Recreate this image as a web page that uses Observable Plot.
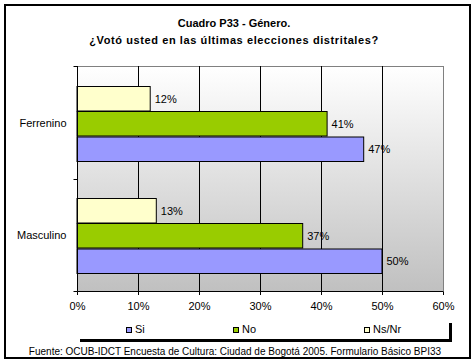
<!DOCTYPE html>
<html>
<head>
<meta charset="utf-8">
<script src="https://cdn.jsdelivr.net/npm/d3@7"></script>
<script src="https://cdn.jsdelivr.net/npm/@observablehq/plot@0.6"></script>
<style>
  html, body { margin: 0; padding: 0; background: #fff; }
  #chart { position: relative; width: 476px; height: 364px; overflow: hidden; font-family: "Liberation Sans", Arial, sans-serif; color: #000; }
  #outer { position: absolute; left: 4px; top: 4px; width: 467px; height: 355px; border: 2px solid #000; box-sizing: border-box; }
  #plot { position: absolute; left: 0; top: 0; }
  #title { position: absolute; left: 0; top: 15px; width: 468px; text-align: center; font-weight: bold; font-size: 11px; line-height: 16.5px; }
  #title span { letter-spacing: 0.6px; }
  #caption { position: absolute; left: 0; top: 346px; width: 470px; text-align: center; font-size: 10px; line-height: 12px; white-space: nowrap; }
  .lg { position: absolute; top: 323px; font-size: 11px; line-height: 12px; white-space: nowrap; }
  .lg i { display: inline-block; width: 4px; height: 4px; border: 1px solid #000; margin-right: 3px; vertical-align: 0px; }
  #lgline-b { position: absolute; left: 80px; top: 339px; width: 372px; height: 3px; background: #000; }
  #lgline-r { position: absolute; left: 449px; top: 323px; width: 3px; height: 19px; background: #000; }
</style>
</head>
<body>
<svg width="0" height="0" style="position:absolute">
  <defs>
    <linearGradient id="bg" x1="0" y1="0" x2="0" y2="1">
      <stop offset="0" stop-color="#ffffff"/>
      <stop offset="1" stop-color="#c0c0c0"/>
    </linearGradient>
  </defs>
</svg>
<div id="chart">
  <div id="outer"></div>
  <div id="plot"></div>
  <div id="title">Cuadro P33 - Género.<br><span>¿Votó usted en las últimas elecciones distritales?</span></div>
  <div id="legend"></div>
  <div id="lgline-b"></div>
  <div id="lgline-r"></div>
  <div id="caption">Fuente: OCUB-IDCT Encuesta de Cultura: Ciudad de Bogotá 2005. Formulario Básico BPI33</div>
</div>
<script>
// ---- data ----
const genders = ["Ferrenino", "Masculino"];
const seriesNames = ["Si", "No", "Ns/Nr"];
const siValues = [47, 50];
const noValues = [41, 37];
const nsnrValues = [12, 13];
const xTicks = [0, 10, 20, 30, 40, 50, 60];
const seriesColors = ["#9999ff", "#99cc00", "#ffffcc"];

// ---- table ----
const valuesBySeries = { "Si": siValues, "No": noValues, "Ns/Nr": nsnrValues };
const rows = [];
seriesNames.forEach((s) => genders.forEach((g, i) => rows.push({ gender: g, series: s, value: valuesBySeries[s][i] })));

// per-series placement within each gender band (style only)
const place = {
  "Ns/Nr": { insetTop: 19.5, insetBottom: 68, dy: -24.3 },
  "No":    { insetTop: 44.5, insetBottom: 43, dy: 0.8 },
  "Si":    { insetTop: 70,   insetBottom: 17.5, dy: 26.3 }
};
const colorOf = Object.fromEntries(seriesNames.map((s, i) => [s, seriesColors[i]]));

const barMarks = [];
const labelMarks = [];
for (const s of seriesNames) {
  const data = rows.filter(r => r.series === s);
  barMarks.push(Plot.barX(data, {
    x: "value", y: "gender", fill: colorOf[s], stroke: "#000", strokeWidth: 1,
    insetTop: place[s].insetTop, insetBottom: place[s].insetBottom
  }));
  labelMarks.push(Plot.text(data, {
    x: "value", y: "gender", text: d => d.value + "%", textAnchor: "start",
    dx: 4, dy: place[s].dy, fill: "#000", fontSize: 11
  }));
}

// axis lines & category boundary ticks
const axisLines = (index, scales, values, dims) => {
  const { x, y } = scales;
  const top = dims.marginTop, bottom = dims.height - dims.marginBottom;
  const x0 = Math.round(x(xTicks[0])) + 0.5;
  const x1 = Math.round(x(xTicks[xTicks.length - 1])) + 0.5;
  const g = d3.create("svg:g").attr("stroke", "#000").attr("stroke-width", 1).attr("fill", "none");
  g.append("line").attr("x1", x0).attr("x2", x0).attr("y1", top).attr("y2", bottom + 0.5);
  g.append("line").attr("x1", x0).attr("x2", x1).attr("y1", bottom + 0.5).attr("y2", bottom + 0.5);
  const bounds = [top, y(genders[1]), bottom].map(v => Math.round(v) + 0.5);
  for (const b of bounds) g.append("line").attr("x1", x0 - 4).attr("x2", x0).attr("y1", b).attr("y2", b);
  return g.node();
};

const chart = Plot.plot({
  width: 476,
  height: 364,
  marginLeft: 77,
  marginRight: 33,
  marginTop: 66,
  marginBottom: 73,
  style: { fontFamily: '"Liberation Sans", Arial, sans-serif', fontSize: "11px", color: "#000", background: "transparent", overflow: "visible" },
  x: { domain: [0, 60], ticks: xTicks, tickFormat: d => d + "%", tickSize: 4, tickPadding: 7, label: null },
  y: { domain: genders, paddingInner: 0, paddingOuter: 0, tickSize: 0, tickPadding: 11, label: null },
  marks: [
    Plot.frame({ fill: "url(#bg)", stroke: "#808080" }),
    Plot.ruleX(xTicks.slice(1, -1), { stroke: "#000" }),
    ...barMarks,
    ...labelMarks,
    axisLines
  ]
});
document.getElementById("plot").appendChild(chart);

// legend
const legendX = [126, 233, 364];
const legend = document.getElementById("legend");
seriesNames.forEach((s, i) => {
  const d = document.createElement("div");
  d.className = "lg";
  d.style.left = legendX[i] + "px";
  d.innerHTML = `<i style="background:${seriesColors[i]}"></i>${s}`;
  legend.appendChild(d);
});
</script>
</body>
</html>
